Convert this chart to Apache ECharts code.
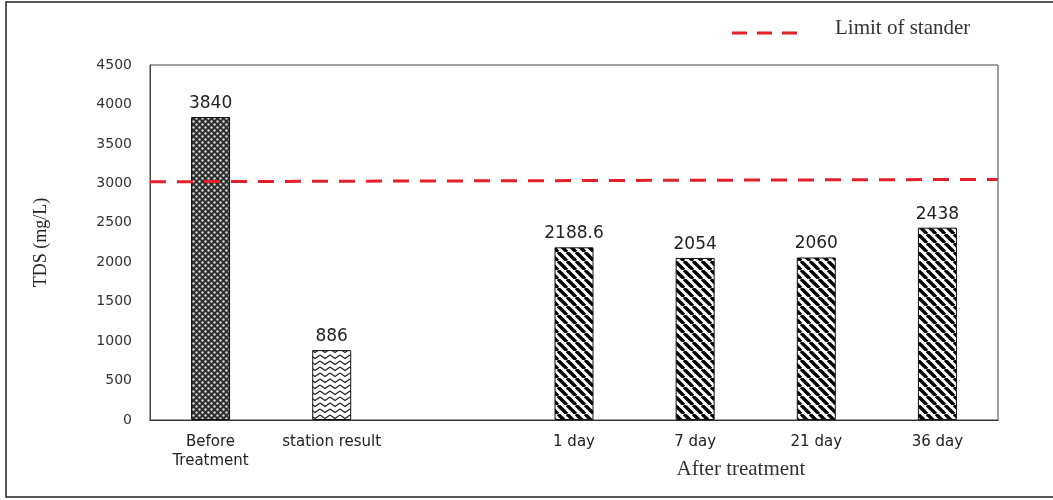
<!DOCTYPE html>
<html>
<head>
<meta charset="utf-8">
<script src="https://cdn.jsdelivr.net/npm/echarts@6/dist/echarts.min.js"></script>
<style>
html,body{margin:0;padding:0;background:#fff;}
#chart{width:1053px;height:500px;}
</style>
</head>
<body>
<div id="chart"></div>
<script>
const categories = ['Before\nTreatment', 'station result', '', '1 day', '7 day', '21 day', '36 day'];
const tdsValues = [3840, 886, null, 2188.6, 2054, 2060, 2438];
const patternKinds = ['dots', 'zigzag', 'none', 'stripes', 'stripes', 'stripes', 'stripes'];
const limitValues = [[0, 3020], [1, 3050]];
const yTicks = { min: 0, max: 4500, interval: 500 };
const limitName = 'Limit of stander';
const groupTitle = 'After treatment';
const yTitle = 'TDS (mg/L)';

function makeTile(kind) {
  const c = document.createElement('canvas');
  const ctx = c.getContext('2d');
  if (kind === 'dots') {
    c.width = 6; c.height = 6;
    ctx.fillStyle = '#2e2e2e'; ctx.fillRect(0, 0, 6, 6);
    ctx.fillStyle = '#d8d8d8';
    ctx.beginPath(); ctx.arc(1.5, 1.5, 1.2, 0, Math.PI * 2); ctx.fill();
    ctx.beginPath(); ctx.arc(4.5, 4.5, 1.2, 0, Math.PI * 2); ctx.fill();
  } else if (kind === 'zigzag') {
    c.width = 10; c.height = 6;
    ctx.fillStyle = '#fff'; ctx.fillRect(0, 0, 10, 6);
    ctx.strokeStyle = '#222'; ctx.lineWidth = 1.2;
    ctx.beginPath(); ctx.moveTo(0, 1); ctx.lineTo(5, 4.6); ctx.lineTo(10, 1); ctx.stroke();
  } else {
    c.width = 9; c.height = 9;
    ctx.fillStyle = '#fff'; ctx.fillRect(0, 0, 9, 9);
    ctx.strokeStyle = '#000'; ctx.lineWidth = 3.4;
    [-9, 0, 9].forEach(o => {
      ctx.beginPath(); ctx.moveTo(o, 0); ctx.lineTo(o + 9, 9); ctx.stroke();
    });
  }
  return c;
}

const barData = tdsValues.map((v, i) => {
  if (v === null) return { value: null };
  return {
    value: v,
    itemStyle: {
      color: { image: makeTile(patternKinds[i]), repeat: 'repeat' },
      borderColor: '#111', borderWidth: 1
    }
  };
});

const chart = echarts.init(document.getElementById('chart'));
chart.setOption({
  animation: false,
  backgroundColor: '#fff',
  grid: { left: 150, right: 55, top: 65, bottom: 80, show: true, borderColor: '#444', borderWidth: 1 },
  xAxis: [{
    type: 'category',
    data: categories,
    axisLine: { show: true, lineStyle: { color: '#333', width: 1 } },
    axisTick: { show: false },
    axisLabel: { color: '#222', fontFamily: 'DejaVu Sans', fontSize: 15, margin: 13, lineHeight: 19, interval: 0 }
  }, {
    type: 'value', min: 0, max: 1, show: false
  }],
  yAxis: {
    type: 'value',
    min: yTicks.min, max: yTicks.max, interval: yTicks.interval,
    name: yTitle, nameLocation: 'middle', nameRotate: 90, nameGap: 100,
    nameTextStyle: { fontFamily: 'Liberation Serif', fontSize: 18, color: '#222' },
    axisLine: { show: true, lineStyle: { color: '#444' } },
    axisTick: { show: false },
    splitLine: { show: false },
    axisLabel: { color: '#333', fontFamily: 'DejaVu Sans', fontSize: 14, margin: 18, formatter: v => String(v) }
  },
  series: [{
    type: 'bar',
    data: barData,
    barWidth: 39,
    z: 2,
    label: { show: true, position: 'top', distance: 5, color: '#222', fontFamily: 'DejaVu Sans', fontSize: 17 }
  }, {
    type: 'line',
    name: limitName,
    xAxisIndex: 1,
    data: limitValues,
    symbol: 'none',
    z: 5,
    lineStyle: { color: '#e0202a', width: 3, type: [16, 11] }
  }],
  graphic: [
    { type: 'rect', x: 6, y: 2, shape: { width: 1050, height: 495 }, style: { fill: 'none', stroke: '#222', lineWidth: 1.5 }, silent: true },
    { type: 'line', shape: { x1: 732, y1: 33, x2: 804, y2: 33 }, style: { stroke: '#e0202a', lineWidth: 3, lineDash: [15, 10] } },
    { type: 'text', x: 835, y: 28, style: { text: limitName, fontFamily: 'Liberation Serif', fontSize: 21, fill: '#333', textAlign: 'left', textVerticalAlign: 'middle' } },
    { type: 'text', x: 741, y: 469, style: { text: groupTitle, fontFamily: 'Liberation Serif', fontSize: 21, fill: '#333', textAlign: 'center', textVerticalAlign: 'middle' } }
  ]
});
</script>
</body>
</html>
